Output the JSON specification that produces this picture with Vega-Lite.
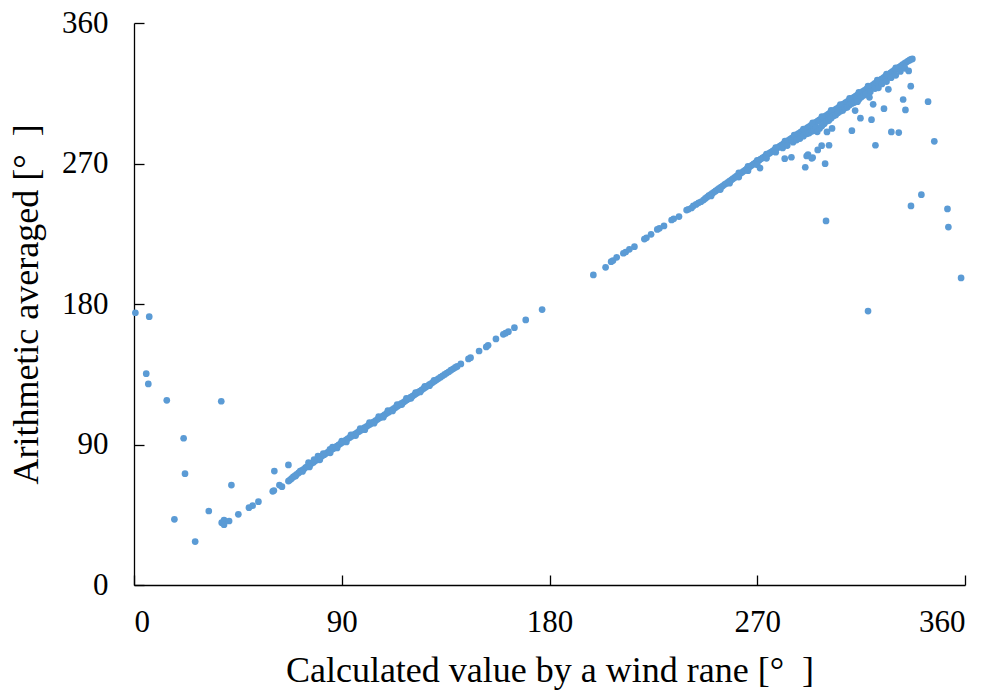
{
  "$schema": "https://vega.github.io/schema/vega-lite/v6.json",
  "width": 831,
  "height": 562,
  "autosize": "none",
  "padding": {"left": 134, "top": 23, "right": 32, "bottom": 113},
  "background": "white",
  "config": {"view": {"stroke": null}, "font": "Liberation Serif",
    "axis": {"titleFont": "Liberation Serif", "labelFont": "Liberation Serif", "titleFontWeight": "normal"},
    "style": {"guide-title": {"font": "Liberation Serif"}, "guide-label": {"font": "Liberation Serif"}}},
  "data": {"values": [
    {"x":0.6,"y":174.4},{"x":6.6,"y":171.9},{"x":5.3,"y":135.4},{"x":6.2,"y":128.8},{"x":14.2,"y":118.3},{"x":37.8,"y":117.7},{"x":21.5,"y":94},{"x":22.1,"y":71.3},{"x":17.5,"y":42.1},{"x":26.5,"y":27.8},{"x":32.4,"y":47.4},{"x":38,"y":39.9},{"x":39,"y":41.6},{"x":39,"y":38.6},{"x":41.2,"y":41},{"x":42.2,"y":64},{"x":45.2,"y":45.3},{"x":49.8,"y":49.5},{"x":51.4,"y":50.8},{"x":53.9,"y":53.4},{"x":60.1,"y":60},{"x":60.6,"y":60.5},{"x":60.8,"y":73},{"x":63,"y":64},{"x":64.1,"y":63},{"x":66.9,"y":76.9},{"x":66.9,"y":66.6},
    {"x":67.5,"y":67.2},{"x":68.2,"y":68.1},{"x":69,"y":69.2},{"x":69.8,"y":70},{"x":70.5,"y":70.9},{"x":71.3,"y":71.8},{"x":72,"y":72.9},{"x":72.8,"y":73.4},{"x":73.5,"y":74.1},{"x":74.3,"y":75.2},{"x":75,"y":75.8},{"x":75.6,"y":78.4},{"x":76.2,"y":76.9},{"x":77,"y":78},{"x":77.8,"y":78.6},{"x":78.5,"y":79.6},{"x":79.2,"y":80.1},{"x":79.7,"y":82.6},{"x":80,"y":81.2},{"x":80.8,"y":81.9},{"x":81.6,"y":82.8},{"x":82.4,"y":83.5},{"x":83.1,"y":84.2},{"x":83.9,"y":85},{"x":84.9,"y":86.9},{"x":84.7,"y":85.7},{"x":85.5,"y":86.6},{"x":86.3,"y":87.3},{"x":87.1,"y":88.2},{"x":87.9,"y":88.9},{"x":88.7,"y":89.8},{"x":89.5,"y":90.6},{"x":90.3,"y":91.4},{"x":91.1,"y":92.1},{"x":91.9,"y":93},{"x":92.7,"y":93.8},{"x":93.5,"y":94.5},{"x":94.3,"y":95.3},{"x":95.1,"y":96.1},{"x":95.9,"y":96.8},{"x":96.7,"y":97.7},{"x":97.5,"y":98.4},{"x":98.3,"y":99.2},{"x":99.1,"y":100},{"x":99.9,"y":100.8},{"x":100.7,"y":101.5},{"x":101.5,"y":102.3},{"x":102.3,"y":103},{"x":103.1,"y":103.9},{"x":103.9,"y":104.5},{"x":104.7,"y":105.3},{"x":105.5,"y":106.1},{"x":106.3,"y":106.9},{"x":107.1,"y":107.6},{"x":107.9,"y":108.4},{"x":108.7,"y":109.2},{"x":109.5,"y":110},{"x":110.3,"y":110.7},{"x":111.1,"y":111.6},{"x":111.9,"y":112.3},{"x":112.7,"y":113.1},{"x":113.5,"y":113.9},{"x":114.3,"y":114.7},{"x":115.1,"y":115.5},{"x":115.9,"y":116.3},{"x":116.7,"y":117},{"x":117.5,"y":117.8},{"x":118.3,"y":118.7},{"x":119.1,"y":119.4},{"x":119.9,"y":120.3},{"x":120.7,"y":121},{"x":121.5,"y":121.8},{"x":122.3,"y":122.6},{"x":123.1,"y":123.5},{"x":123.9,"y":124.2},{"x":124.7,"y":125},{"x":125.5,"y":125.9},{"x":126.3,"y":126.6},{"x":127.1,"y":127.4},{"x":127.9,"y":128.3},{"x":128.7,"y":129},{"x":129.5,"y":129.8},{"x":130.3,"y":130.7},{"x":131.1,"y":131.4},{"x":131.9,"y":132.2},{"x":132.8,"y":133.1},{"x":133.7,"y":134},{"x":134.6,"y":134.9},{"x":135.5,"y":135.8},{"x":136.4,"y":136.6},{"x":137.3,"y":137.6},{"x":138.3,"y":138.5},{"x":139.2,"y":139.4},{"x":140,"y":140},
    {"x":70,"y":69.8},{"x":73,"y":72.7},{"x":76,"y":75.6},{"x":80.5,"y":80.2},{"x":85,"y":84.7},{"x":88,"y":87.8},{"x":92,"y":91.6},{"x":96,"y":95.7},
    {"x":78,"y":80.3},{"x":82,"y":84.2},{"x":86,"y":88.3},{"x":90,"y":92.2},{"x":94,"y":96.1},{"x":98,"y":100.2},{"x":102,"y":104},{"x":106,"y":107.9},{"x":110,"y":111.7},{"x":114,"y":115.6},{"x":118,"y":119.5},{"x":122,"y":123.3},{"x":126,"y":127.2},{"x":130,"y":131.1},
    {"x":100,"y":99.5},{"x":104,"y":103.6},{"x":108,"y":107.5},{"x":112,"y":111.5},{"x":116,"y":115.6},{"x":120,"y":119.6},{"x":124,"y":123.7},{"x":128,"y":127.7},
    {"x":141.6,"y":141.6},{"x":144.9,"y":144.8},{"x":145.8,"y":145.6},{"x":149.5,"y":149.9},{"x":152.6,"y":152.5},{"x":153.4,"y":153.5},{"x":156.8,"y":157.6},{"x":160,"y":160.6},{"x":161,"y":161.3},{"x":162.2,"y":162.3},{"x":164.8,"y":164.8},{"x":169.7,"y":169.8},{"x":176.8,"y":176.4},
    {"x":199,"y":198.6},{"x":204.3,"y":203.5},{"x":206.7,"y":207.1},{"x":207.5,"y":207.8},{"x":209.1,"y":209.9},{"x":212,"y":212.5},{"x":213,"y":213.3},{"x":214.6,"y":215},{"x":216.8,"y":216.7},{"x":221.1,"y":221.6},{"x":222,"y":222.4},{"x":224,"y":224.6},{"x":226.7,"y":227.8},{"x":227.6,"y":228.5},{"x":229.6,"y":230},{"x":232.9,"y":233.8},{"x":233.8,"y":234.6},{"x":236.1,"y":236},{"x":239.4,"y":240.2},{"x":240.2,"y":240.7},{"x":241.5,"y":241.5},{"x":242.3,"y":242.8},{"x":243.5,"y":243.8},{"x":244.6,"y":244.8},{"x":245.6,"y":245.5},{"x":246.7,"y":246.6},
    {"x":247.5,"y":247.6},{"x":248.3,"y":248.5},{"x":249,"y":249.4},{"x":249.8,"y":250.1},{"x":250.5,"y":250.8},{"x":251.3,"y":251.7},{"x":252,"y":252.4},{"x":252.8,"y":253.3},{"x":253.5,"y":254},{"x":254.3,"y":254.9},{"x":255,"y":255.6},{"x":255.8,"y":256.5},{"x":256.5,"y":257.2},{"x":257.3,"y":258},{"x":258,"y":258.8},{"x":258.8,"y":259.5},{"x":259.5,"y":260.3},{"x":260.3,"y":261.1},{"x":261,"y":261.9},{"x":261.8,"y":262.6},{"x":262.5,"y":263.4},{"x":263.3,"y":264.2},{"x":264,"y":265},{"x":264.8,"y":265.8},{"x":265.5,"y":266.6},{"x":266.3,"y":267.4},{"x":267,"y":268.2},{"x":267.8,"y":269},{"x":268.5,"y":269.8},{"x":269.3,"y":270.6},{"x":270,"y":271.4},{"x":270.8,"y":272.1},{"x":271.5,"y":272.8},{"x":272.3,"y":273.6},{"x":273,"y":274.3},{"x":273.8,"y":275.1},{"x":274.5,"y":275.8},{"x":275.3,"y":276.6},{"x":276,"y":277.3},{"x":276.8,"y":278.1},{"x":277.5,"y":278.8},{"x":278.3,"y":279.6},{"x":279,"y":280.3},{"x":279.8,"y":281.1},{"x":280.5,"y":281.8},{"x":281.3,"y":282.6},{"x":282,"y":283.3},{"x":282.8,"y":284.1},{"x":283.5,"y":284.8},{"x":284.3,"y":285.6},{"x":285,"y":286.3},{"x":285.8,"y":287.1},{"x":286.5,"y":287.8},{"x":287.3,"y":288.6},{"x":288,"y":289.3},{"x":288.8,"y":290.1},{"x":289.5,"y":290.7},{"x":290.3,"y":291.5},{"x":291,"y":292.2},{"x":291.8,"y":293},{"x":292.5,"y":293.6},{"x":293.3,"y":294.4},{"x":294,"y":295.1},{"x":294.8,"y":295.9},{"x":295.5,"y":296.5},{"x":296.3,"y":297.3},{"x":297,"y":298},{"x":297.8,"y":298.8},{"x":298.5,"y":299.4},{"x":299.3,"y":300.2},{"x":300,"y":300.9},{"x":300.8,"y":301.7},{"x":301.5,"y":302.3},{"x":302.3,"y":303.1},{"x":303,"y":303.8},{"x":303.8,"y":304.6},{"x":304.5,"y":305.2},{"x":305.3,"y":306},{"x":306,"y":306.7},{"x":306.8,"y":307.5},{"x":307.5,"y":308.2},{"x":308.3,"y":309},{"x":309,"y":309.6},{"x":309.8,"y":310.4},{"x":310.5,"y":311.1},{"x":311.3,"y":311.9},{"x":312,"y":312.5},{"x":312.8,"y":313.3},{"x":313.5,"y":314},{"x":314.3,"y":314.8},{"x":315,"y":315.4},{"x":315.8,"y":316.2},{"x":316.5,"y":316.9},{"x":317.3,"y":317.7},{"x":318,"y":318.3},{"x":318.8,"y":319.1},{"x":319.5,"y":319.8},{"x":320.3,"y":320.6},{"x":321,"y":321.3},{"x":321.8,"y":322.1},{"x":322.5,"y":322.8},{"x":323.3,"y":323.6},{"x":324,"y":324.3},{"x":324.8,"y":325.1},{"x":325.5,"y":325.8},{"x":326.3,"y":326.6},{"x":327,"y":327.3},{"x":327.8,"y":328.1},{"x":328.5,"y":328.8},{"x":329.3,"y":329.6},{"x":330,"y":330.3},{"x":330.8,"y":331.1},{"x":331.5,"y":331.8},{"x":332.3,"y":332.6},{"x":333,"y":333.3},{"x":333.8,"y":334.1},{"x":334.5,"y":334.8},{"x":335.3,"y":335.6},{"x":336,"y":336.2},{"x":336.6,"y":336.7},{"x":337.2,"y":337},
    {"x":262,"y":264},{"x":266,"y":268.2},{"x":270,"y":272},{"x":274,"y":276},{"x":278,"y":280.2},{"x":282,"y":284.3},{"x":286,"y":288.2},{"x":290,"y":292},{"x":294,"y":296},{"x":298,"y":300},{"x":302,"y":304},{"x":306,"y":307.8},{"x":310,"y":311.8},{"x":314,"y":315.6},{"x":318,"y":319.5},{"x":322,"y":323.4},{"x":326,"y":327.3},{"x":330,"y":331.2},
    {"x":250,"y":249.2},{"x":254,"y":253.3},{"x":258,"y":257.4},{"x":262,"y":261.3},{"x":266,"y":265.4},{"x":270,"y":269.2},{"x":274,"y":273.3},{"x":278,"y":277.2},{"x":281,"y":280},
    {"x":283,"y":281.5},{"x":285.5,"y":283.6},{"x":287,"y":285},{"x":288.5,"y":286},{"x":290,"y":287.5},{"x":291.5,"y":289},{"x":292.5,"y":289.5},{"x":293.5,"y":290.5},{"x":294.5,"y":291},{"x":295.5,"y":293},{"x":296,"y":290.3},{"x":297,"y":292.5},{"x":298,"y":294},{"x":299,"y":295.5},{"x":300,"y":297},{"x":301,"y":297.5},{"x":302,"y":299},{"x":303,"y":300.5},{"x":304,"y":301},{"x":305,"y":302.5},{"x":306,"y":303.5},{"x":307,"y":304},{"x":308,"y":305.5},{"x":309,"y":306},{"x":310,"y":307.5},{"x":311,"y":308.5},{"x":312,"y":309},{"x":313,"y":310.5},{"x":314,"y":311},{"x":315,"y":312.5},{"x":316,"y":313.5},{"x":317,"y":314.5},{"x":319,"y":316},{"x":321,"y":318},{"x":322.5,"y":318.5},{"x":324,"y":321},{"x":326,"y":322.5},{"x":328,"y":325},{"x":330,"y":326.5},{"x":332,"y":329},{"x":334,"y":331},
    {"x":335.6,"y":329.3},{"x":336.5,"y":319.5},{"x":344,"y":309.6},{"x":333.2,"y":311},{"x":334.2,"y":304.3},{"x":326.8,"y":317.5},{"x":324.9,"y":305.1},{"x":320.2,"y":307.9},{"x":319.5,"y":298.1},{"x":328.1,"y":290.2},{"x":331.3,"y":289.8},{"x":321.2,"y":281.7},{"x":346.7,"y":284.2},{"x":341.1,"y":250},{"x":336.6,"y":242.8},{"x":352.4,"y":240.9},{"x":352.8,"y":229.3},{"x":358.3,"y":196.7},{"x":299.8,"y":233.2},{"x":318,"y":175.5},{"x":311,"y":291},{"x":314.7,"y":299},{"x":312.4,"y":303.9},{"x":318.6,"y":312.4},{"x":313.4,"y":309.6},{"x":302.4,"y":292.5},{"x":301.1,"y":281.7},{"x":299.4,"y":269.9},{"x":297.9,"y":281.4},{"x":296.2,"y":278.7},{"x":294,"y":273.8},{"x":292,"y":275.7},{"x":290.8,"y":267.6},{"x":284.8,"y":274},{"x":281.9,"y":273.1},{"x":300.2,"y":290.2},{"x":271.2,"y":267.1},{"x":291.4,"y":274.8},{"x":293.6,"y":273.3}
  ]},
  "mark": {"type": "circle", "size": 45, "color": "#5B9BD5", "opacity": 1},
  "encoding": {
    "x": {"field": "x", "type": "quantitative",
      "scale": {"domain": [0, 360], "nice": false, "zero": false},
      "axis": {"values": [0, 90, 180, 270, 360], "grid": false, "tickSize": -10, "domainColor": "#000000", "tickColor": "#000000", "domainWidth": 1.3, "tickWidth": 1.3,
        "labelFont": "Liberation Serif", "labelFontSize": 31, "labelColor": "#000000", "labelPadding": 32,
        "title": "Calculated value by a wind rane [°\u00a0\u00a0]", "titleFont": "Liberation Serif", "titleFontSize": 36, "titleFontWeight": "normal", "titleColor": "#000000", "titlePadding": 16}},
    "y": {"field": "y", "type": "quantitative",
      "scale": {"domain": [0, 360], "nice": false, "zero": false},
      "axis": {"values": [0, 90, 180, 270, 360], "grid": false, "tickSize": -10, "domainColor": "#000000", "tickColor": "#000000", "domainWidth": 1.3, "tickWidth": 1.3,
        "labelFont": "Liberation Serif", "labelFontSize": 31, "labelColor": "#000000", "labelPadding": 36,
        "title": "Arithmetic averaged [°\u00a0\u00a0]", "titleFont": "Liberation Serif", "titleFontSize": 36, "titleFontWeight": "normal", "titleColor": "#000000", "titlePadding": 16}}
  }
}
